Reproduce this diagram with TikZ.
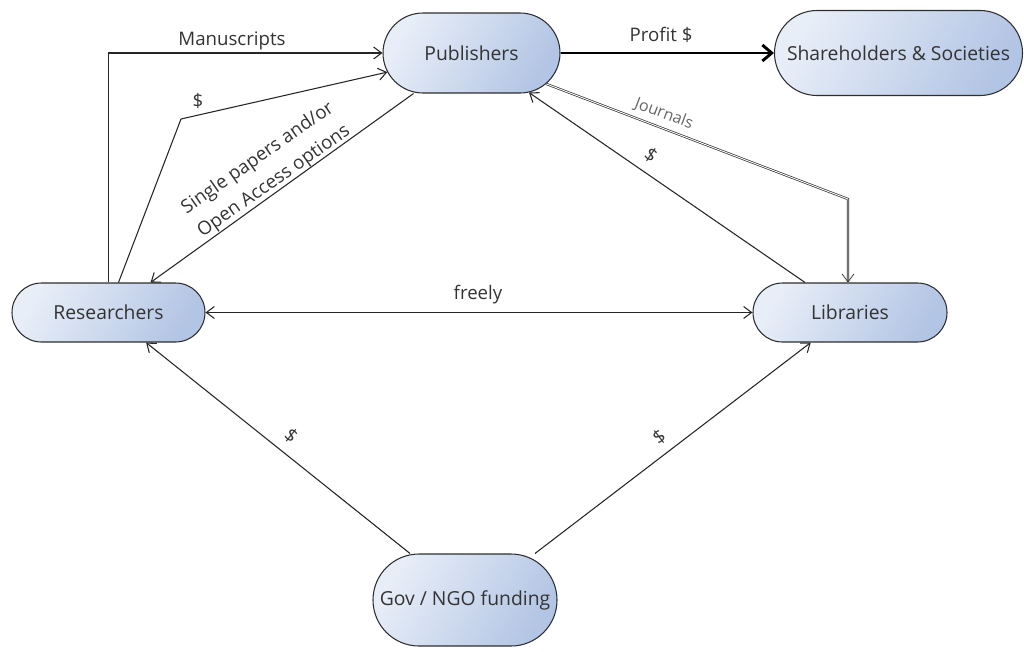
\documentclass[tikz,border=0pt]{standalone}
\usepackage{fontspec}
\setmainfont{Open Sans}
\usetikzlibrary{shapes.misc,arrows.meta,calc}
\definecolor{boxlight}{HTML}{E8EEF8}
\definecolor{boxdark}{HTML}{B3C5E4}
\definecolor{ink}{HTML}{333333}
\tikzset{
  box/.style={rounded rectangle, draw=ink!90!black, line width=0.8pt,
    shading=axis, left color=boxlight, right color=boxdark, shading angle=60,
    text=ink, font=\fontsize{14.5}{17}\selectfont, inner sep=0pt},
  arr/.style={draw=black!85, line width=0.8pt, -{Straight Barb[length=6pt,width=9pt]}},
  lbl/.style={text=ink, font=\fontsize{14}{16}\selectfont, inner sep=0pt},
}
\begin{document}
\begin{tikzpicture}[x=0.75pt,y=-0.75pt]
\useasboundingbox (0,0) rectangle (1024,651);
% nodes
\node[box, minimum width=132.75pt, minimum height=60pt] (pub) at (471.5,53) {Publishers};
\node[box, minimum width=186pt, minimum height=63.75pt] (sh) at (898.5,53) {Shareholders \& Societies};
\node[box, minimum width=144.75pt, minimum height=44.25pt] (res) at (108.5,312.5) {Researchers};
\node[box, minimum width=145.5pt, minimum height=44.25pt] (lib) at (850,312.5) {Libraries};
\node[box, minimum width=138pt, minimum height=69pt] (gov) at (465,600) {Gov / NGO funding};
% coordinates
\coordinate (dbend) at (181,119);
\coordinate (jbend) at (848,199);
% Manuscripts
\draw[arr] (res.north) |- (pub.west);
\node[lbl] (lman) at (232,41) {Manuscripts};
% $ researchers -> publishers
\draw[arr] ($(res.north)+(10,0)$) -- (dbend) -- (pub);
\node[lbl] (ldol1) at (198,101) {\$};
% single papers
\draw[arr] ($(pub.south)+(-58,0)$) -- ($(res.north)+(42,0)$);
\node[lbl, rotate=35, align=center, font=\fontsize{14}{21}\selectfont] (lsingle) at (266,170) {Single papers and/or\\Open Access options};
% profit
\draw[draw=black, line width=2.2pt, -{Straight Barb[length=7pt,width=12pt]}] (pub.east) -- (sh.west);
\node[lbl] (lprofit) at (661,35) {Profit \$};
% journals
\draw[arr, double=white, double distance=0.7pt, line width=0.5pt] ($(pub.center)+(75,31)$) -- (jbend) -- (jbend |- lib.north);
\node[lbl, rotate=-20.6, font=\fontsize{12}{14}\selectfont, text=black!60] (ljour) at (664,114) {Journals};
% libraries -> publishers
\draw[arr] ($(lib.north)+(-45,0)$) -- (pub);
\node[lbl, rotate=-34.6] (ldol2) at (651,155) {\$};
% freely
\draw[draw=black!85, line width=0.8pt, {Straight Barb[length=6pt,width=9pt]}-{Straight Barb[length=6pt,width=9pt]}] (res.east) -- (lib.west);
\node[lbl] (lfree) at (478,295) {freely};
% gov
\draw[arr] ($(gov.north)+(-55,0)$) -- (res);
\draw[arr] ($(gov.north)+(70,0)$) -- (lib);
\node[lbl, rotate=-38.7] (ldol3) at (291,436) {\$};
\node[lbl, rotate=37.6] (ldol4) at (659,437) {\$};
\end{tikzpicture}
\end{document}
